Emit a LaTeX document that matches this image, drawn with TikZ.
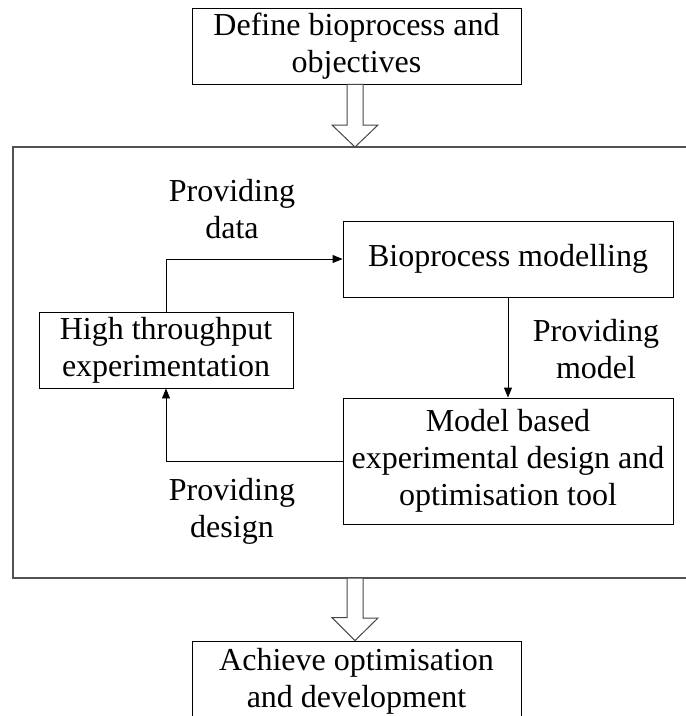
\documentclass[tikz,border=0pt]{standalone}
\usepackage{fontspec}
\setmainfont{Liberation Serif}
\usetikzlibrary{arrows.meta}
\begin{document}
\begin{tikzpicture}[x=1pt,y=-1pt,
  every node/.style={font=\fontsize{32}{37}\selectfont, align=center, inner sep=0pt},
  stepbox/.style={draw=black, line width=0.9pt, minimum width=#1, fill=white},
  framebox/.style={draw=black!68, line width=2pt},
  conn/.style={draw=black, line width=0.9pt, -{Triangle[length=10pt,width=8pt]}},
  hollow/.style={draw=black!72, line width=1pt, fill=white, line join=miter},
  lbl/.style={}]
\useasboundingbox (0,0) rectangle (686,716);

% outer frame around the iterative loop
\draw[framebox] (13,147) rectangle (720,578);
\coordinate (framenorth) at (355,147);
\coordinate (framesouth) at (355,578);

% stages
\node[stepbox=329pt, minimum height=76pt] (top) at (356.5,46) {Define bioprocess and\\objectives};
\node[stepbox=329pt, minimum height=80pt] (bot) at (356.5,681) {Achieve optimisation\\and development};
\node[stepbox=254pt, minimum height=76pt] (ht)  at (166,350) {High throughput\\experimentation};
\node[stepbox=330pt, minimum height=76pt] (bio) at (508,259) {Bioprocess modelling};
\node[stepbox=330pt, minimum height=126pt] (mb) at (508,461) {Model based\\experimental design and\\optimisation tool};

% loop connectors
\draw[conn] (ht.north) |- (bio.west);
\draw[conn] (bio.south) -- (mb.north);
\draw[conn] (mb.west) -| (ht.south);

% connector labels
\node[lbl] (ldata)   at (232,209) {Providing\\data};
\node[lbl] (lmodel)  at (596,349) {Providing\\model};
\node[lbl] (ldesign) at (232,511) {Providing\\design};

% hollow block arrows between stages
\draw[hollow] (framenorth) -- ++(-23,-22) -- ++(15,0) -- (top.south -| 347,0) -- (top.south -| 363,0) -- (363,125) -- ++(15,0) -- cycle;
\draw[hollow] (bot.north -| framesouth) -- ++(-23,-23) -- ++(15,0) -- (framesouth -| 347,0) -- (framesouth -| 363,0) -- (363,618) -- ++(15,0) -- cycle;
\end{tikzpicture}
\end{document}
